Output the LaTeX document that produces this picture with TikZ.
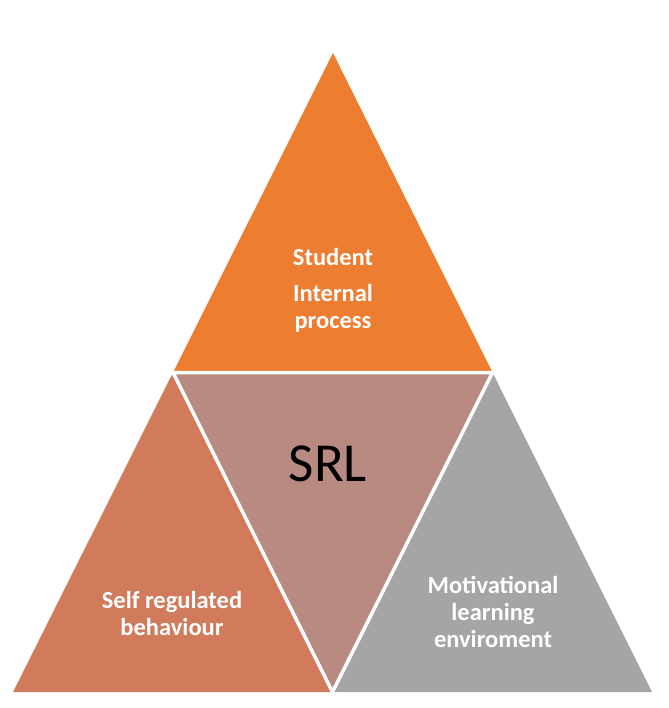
\documentclass[tikz,border=0pt]{standalone}
\usepackage{fontspec}
\setmainfont{Carlito}
\definecolor{topc}{RGB}{237,125,49}
\definecolor{leftc}{RGB}{209,123,92}
\definecolor{midc}{RGB}{185,138,130}
\definecolor{rightc}{RGB}{165,165,165}
\begin{document}
\begin{tikzpicture}[x=1pt,y=-1pt,
  lbl/.style={text=white, font=\bfseries\fontsize{24.5}{27}\selectfont, align=center, inner sep=0pt},
  gap/.style={draw=white, line width=3.5pt, line join=miter}]
\useasboundingbox (0,0) rectangle (668,708);
\coordinate (T) at (333,53);
\coordinate (L) at (13,692);
\coordinate (R) at (652,692);
\coordinate (ML) at (173,372.5);
\coordinate (MR) at (492.5,372.5);
\coordinate (B) at (332.5,692);
\fill[topc] (T) -- (ML) -- (MR) -- cycle;
\fill[leftc] (ML) -- (L) -- (B) -- cycle;
\fill[rightc] (MR) -- (B) -- (R) -- cycle;
\fill[midc] (ML) -- (MR) -- (B) -- cycle;
\draw[gap] (ML) -- (MR) -- (B) -- cycle;
\node[lbl] (student) at (333,257) {Student};
\node[lbl] (internal) at (333,308.5) {Internal\\process};
\node[font=\fontsize{55}{60}\selectfont, text=black, inner sep=0pt] (srl) at (328,464) {SRL};
\node[lbl] (self) at (172,613.5) {Self regulated\\behaviour};
\node[lbl] (motiv) at (493,611.5) {Motivational\\learning\\enviroment};
\end{tikzpicture}
\end{document}
